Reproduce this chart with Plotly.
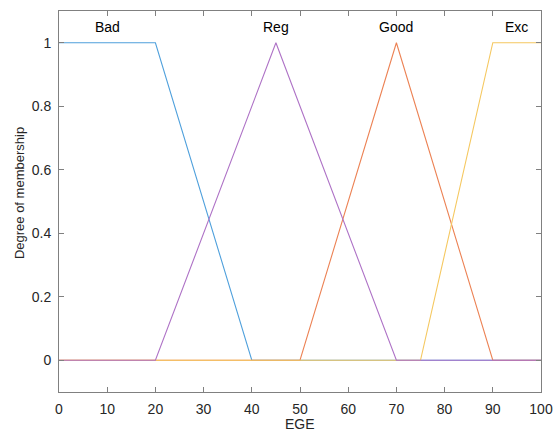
import plotly.graph_objects as go

# Membership functions for EGE
names = ["Bad", "Reg", "Good", "Exc"]
bad_x = [0, 20, 40, 100]
bad_y = [1, 1, 0, 0]
reg_x = [0, 20, 45, 70, 100]
reg_y = [0, 0, 1, 0, 0]
good_x = [0, 50, 70, 90, 100]
good_y = [0, 0, 1, 0, 0]
exc_x = [0, 75, 90, 100]
exc_y = [0, 0, 1, 1]
label_x = [10, 45, 70, 95]
label_y = 1.05

colors = {"Bad": "#4FA0DC", "Reg": "#AE72C6", "Good": "#EC8254", "Exc": "#F5C860"}

fig = go.Figure()
series = {"Bad": (bad_x, bad_y), "Good": (good_x, good_y), "Exc": (exc_x, exc_y), "Reg": (reg_x, reg_y)}
for n, (xs, ys) in series.items():
    fig.add_trace(go.Scatter(x=xs, y=ys, mode="lines", name=n,
                             line=dict(color=colors[n], width=1.1), showlegend=False,
                             hoverinfo="skip"))

font_fam = "Arial, Liberation Sans, sans-serif"
for n, lx in zip(names, label_x):
    fig.add_annotation(x=lx, y=label_y, text=n, showarrow=False,
                       font=dict(family=font_fam, size=14, color="#000000"))

fig.add_annotation(xref="paper", yref="paper", x=0.5, y=0, yanchor="top", yshift=-23,
                   text="EGE", showarrow=False, borderpad=0,
                   font=dict(family=font_fam, size=14, color="#262626"))
fig.add_annotation(xref="paper", yref="paper", x=0, y=0.522, xanchor="center", xshift=-40,
                   text="Degree of membership", textangle=-90, showarrow=False,
                   font=dict(family=font_fam, size=13, color="#262626"))

axis_common = dict(showline=True, linecolor="#808080", linewidth=1, mirror="ticks",
                   ticks="inside", ticklen=5, tickcolor="#808080", showgrid=False,
                   zeroline=False,
                   tickfont=dict(family=font_fam, size=14, color="#262626"))

fig.update_xaxes(range=[0, 100], tickvals=list(range(0, 101, 10)),
                 ticklabelstandoff=4, **axis_common)
fig.update_yaxes(range=[-0.1, 1.1], tickvals=[0, 0.2, 0.4, 0.6, 0.8, 1],
                 ticktext=["0", "0.2", "0.4", "0.6", "0.8", "1"],
                 ticklabelstandoff=4, **axis_common)

fig.update_layout(width=553, height=432,
                  margin=dict(l=59, r=12, t=11, b=40, autoexpand=False),
                  plot_bgcolor="white", paper_bgcolor="white")

fig.write_html("out.html", config={"displayModeBar": False},
               post_script="document.body.style.margin='0';document.body.style.overflow='hidden';")
